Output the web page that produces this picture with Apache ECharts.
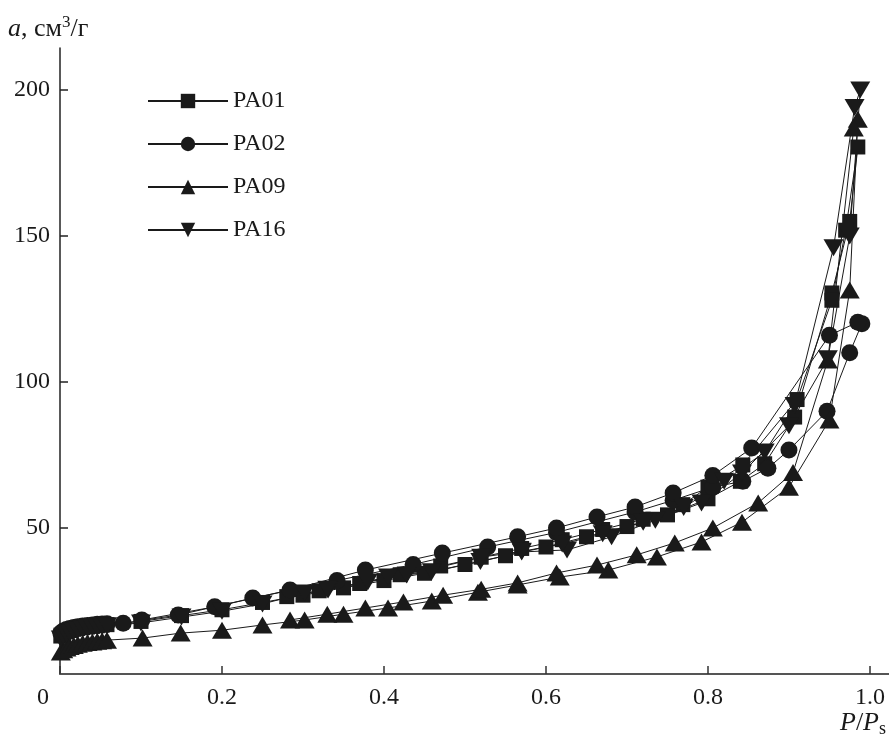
<!DOCTYPE html>
<html>
<head>
<meta charset="utf-8">
<script src="https://cdn.jsdelivr.net/npm/echarts@6/dist/echarts.min.js"></script>
<style>
  html, body { margin: 0; padding: 0; background: #fff; }
  #chart { width: 889px; height: 741px; }
</style>
</head>
<body>
<div id="chart"></div>
<script>
// relative pressure P/Ps (adsorption branch, then desorption branch) and uptake a, cm3/g
const pa01P = [0.001, 0.004, 0.008, 0.012, 0.017, 0.022, 0.028, 0.034, 0.04, 0.046, 0.052, 0.058, 0.1, 0.15, 0.2, 0.25, 0.3, 0.35, 0.4, 0.45, 0.5, 0.55, 0.6, 0.65, 0.7, 0.75, 0.8, 0.84, 0.87, 0.907, 0.953, 0.975, 0.985,
  0.97, 0.953, 0.91, 0.843, 0.8, 0.769, 0.72, 0.67, 0.62, 0.57, 0.52, 0.47, 0.42, 0.37, 0.32, 0.28];
const pa01A = [13, 13.8, 14.4, 14.9, 15.3, 15.6, 15.9, 16.1, 16.3, 16.5, 16.7, 16.9, 18, 20, 22, 24.5, 27, 29.5, 32, 34.5, 37.5, 40.5, 43.5, 47, 50.5, 54.5, 60, 66, 72, 88, 130.5, 155, 180.5,
  152, 128, 94, 71.6, 64, 58, 53, 49.5, 46, 43, 40, 37, 34, 31, 28.5, 26.5];

const pa02P = [0.001, 0.004, 0.008, 0.012, 0.017, 0.022, 0.028, 0.034, 0.04, 0.046, 0.052, 0.058, 0.078, 0.146, 0.238, 0.342, 0.436, 0.528, 0.613, 0.71, 0.757, 0.806, 0.843, 0.874, 0.9, 0.947, 0.975, 0.99,
  0.985, 0.95, 0.854, 0.806, 0.757, 0.71, 0.663, 0.613, 0.565, 0.472, 0.377, 0.284, 0.191, 0.101];
const pa02A = [14, 14.7, 15.2, 15.6, 15.9, 16.2, 16.4, 16.6, 16.8, 17, 17.1, 17.2, 17.4, 20.2, 26, 32, 37.5, 43.5, 48.5, 55.5, 59.5, 64, 66, 70.5, 76.7, 90, 110, 120,
  120.5, 116, 77.4, 68, 62, 57.2, 53.8, 50, 47, 41.4, 35.6, 28.8, 23, 18.5];

const pa09P = [0.001, 0.004, 0.008, 0.012, 0.017, 0.022, 0.028, 0.034, 0.04, 0.046, 0.052, 0.058, 0.102, 0.149, 0.2, 0.25, 0.302, 0.35, 0.405, 0.459, 0.516, 0.565, 0.617, 0.677, 0.737, 0.792, 0.842, 0.9, 0.95, 0.975, 0.985,
  0.98, 0.948, 0.905, 0.862, 0.806, 0.759, 0.712, 0.663, 0.613, 0.565, 0.52, 0.473, 0.424, 0.377, 0.33, 0.284];
const pa09A = [7.5, 8.3, 8.9, 9.4, 9.8, 10.2, 10.5, 10.8, 11, 11.2, 11.4, 11.6, 12.3, 14, 15, 16.8, 18.5, 20.5, 22.6, 25, 28, 30.5, 33.2, 35.6, 40.1, 45.2, 52, 64, 87, 131.5, 190,
  187, 107.5, 69, 58.6, 50, 44.9, 40.8, 37.3, 34.6, 31.2, 29, 27, 24.7, 22.6, 20.5, 18.5];

const pa16P = [0.001, 0.004, 0.008, 0.012, 0.017, 0.022, 0.028, 0.034, 0.04, 0.046, 0.052, 0.058, 0.1, 0.15, 0.2, 0.25, 0.302, 0.331, 0.405, 0.459, 0.519, 0.57, 0.626, 0.681, 0.735, 0.792, 0.842, 0.9, 0.948, 0.975, 0.988,
  0.981, 0.955, 0.907, 0.87, 0.82, 0.77, 0.72, 0.67, 0.62, 0.57, 0.52, 0.428, 0.38, 0.33];
const pa16A = [12, 12.9, 13.6, 14.1, 14.6, 15, 15.3, 15.6, 15.9, 16.1, 16.3, 16.5, 17.5, 19.5, 21.5, 24, 27.7, 28.8, 33.2, 35, 38.5, 41.8, 42.5, 47, 52.7, 58.6, 68.8, 85, 108, 150, 200,
  194, 146, 92, 76, 66, 57, 52, 48, 44.5, 42, 40, 33.9, 31.5, 29];

const seriesNames = ["PA01", "PA02", "PA09", "PA16"];
const xTicks = [0, 0.2, 0.4, 0.6, 0.8, 1.0];
const yTicks = [50, 100, 150, 200];

const pairs = (xs, ys) => xs.map((x, i) => [x, ys[i]]);

const serif = "Liberation Serif";
const ink = "#1a1a1a";
const fs = 24;

const chart = echarts.init(document.getElementById("chart"));

const lineSeries = (name, data, symbol, size, rotate) => ({
  name: name,
  type: "line",
  data: data,
  symbol: symbol,
  symbolSize: size,
  symbolRotate: rotate || 0,
  showAllSymbol: true,
  animation: false,
  itemStyle: { color: ink },
  lineStyle: { color: ink, width: 1 },
});

chart.setOption({
  backgroundColor: "#fff",
  grid: { left: 60, right: 0, top: 48, bottom: 67 },
  legend: {
    left: 147,
    top: 89,
    padding: 0,
    orient: "vertical",
    itemWidth: 80,
    itemHeight: 18,
    itemGap: 19,
    data: seriesNames,
    textStyle: { fontFamily: serif, fontSize: fs, color: ink, lineHeight: 18 },
  },
  xAxis: {
    type: "value",
    min: 0,
    max: 1.0235,
    splitLine: { show: false },
    axisLine: { lineStyle: { color: "#555", width: 2 } },
    axisTick: { inside: true, length: 8, customValues: xTicks, lineStyle: { color: "#333", width: 1.5 } },
    axisLabel: {
      customValues: xTicks,
      margin: 12,
      fontFamily: serif,
      fontSize: fs,
      color: ink,
      formatter: (v) => (v === 0 ? "{z|0}" : v.toFixed(1)),
      rich: { z: { padding: [0, 34, 0, 0], fontFamily: serif, fontSize: fs, color: ink } },
    },
  },
  yAxis: {
    type: "value",
    min: 0,
    max: 214.4,
    splitLine: { show: false },
    axisLine: { lineStyle: { color: "#222", width: 1.5 } },
    axisTick: { inside: true, length: 8, customValues: yTicks, lineStyle: { color: "#222", width: 1.5 } },
    axisLabel: { customValues: yTicks, margin: 10, fontFamily: serif, fontSize: fs, color: ink },
  },
  graphic: [
    {
      type: "text",
      left: 8,
      top: 14,
      style: {
        text: "{i|a}, см{sup|3}/г",
        fontFamily: serif,
        fontSize: 26,
        fill: ink,
        rich: {
          i: { fontFamily: serif, fontStyle: "italic", fontSize: 26, lineHeight: 30 },
          sup: { fontFamily: serif, fontSize: 17, verticalAlign: "top", lineHeight: 30 },
        },
      },
    },
    {
      type: "text",
      right: 3,
      top: 710,
      style: {
        text: "{i|P}/{i|P}{sub|s}",
        fontFamily: serif,
        fontSize: 26,
        fill: ink,
        rich: {
          i: { fontFamily: serif, fontStyle: "italic", fontSize: 26, lineHeight: 30 },
          sub: { fontFamily: serif, fontSize: 18, verticalAlign: "bottom", lineHeight: 30 },
        },
      },
    },
  ],
  series: [
    lineSeries("PA01", pairs(pa01P, pa01A), "rect", 15),
    lineSeries("PA02", pairs(pa02P, pa02A), "circle", 17),
    lineSeries("PA09", pairs(pa09P, pa09A), "triangle", [20, 17]),
    lineSeries("PA16", pairs(pa16P, pa16A), "triangle", [20, 17], 180),
  ],
});
</script>
</body>
</html>
